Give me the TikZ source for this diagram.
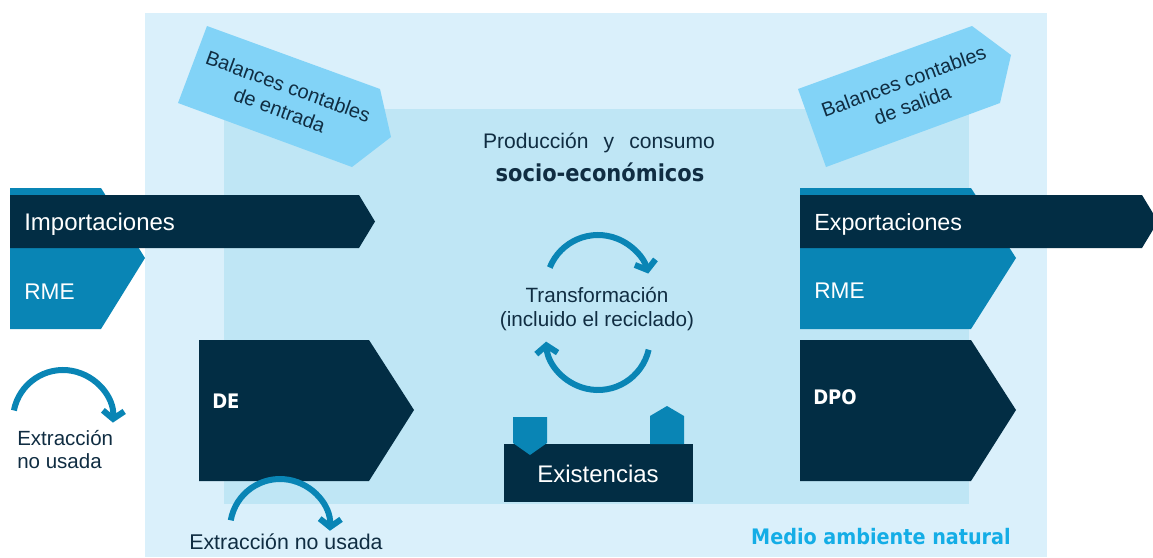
\documentclass[tikz,border=0pt]{standalone}
\usepackage{fontspec}
\setmainfont{Liberation Sans}
\newfontfamily\tah{DejaVu Sans Condensed}
\usetikzlibrary{arrows.meta}
\definecolor{navy}{RGB}{2,45,68}
\definecolor{midblue}{RGB}{9,133,181}
\definecolor{lightbal}{RGB}{130,211,247}
\definecolor{outerbg}{RGB}{218,240,251}
\definecolor{innerbg}{RGB}{191,230,245}
\definecolor{txt}{RGB}{16,45,66}
\definecolor{cyantext}{RGB}{20,173,230}
\begin{document}
\begin{tikzpicture}[x=0.75pt,y=-0.75pt,
  cyc/.style={midblue,line width=4.5pt,-{Straight Barb[length=6pt,width=16pt]}},
  lbl/.style={inner sep=0pt,text=txt},
  wlbl/.style={inner sep=0pt,text=white},
  arialL/.style={font=\fontsize{18pt}{21pt}\selectfont},
  arialM/.style={font=\fontsize{15.4pt}{17.3pt}\selectfont},
  boldT/.style={font=\tah\bfseries\fontsize{15pt}{18pt}\selectfont}]
\useasboundingbox (0,0) rectangle (1153,557);
\clip (0,0) rectangle (1153,557);
\fill[white] (0,0) rectangle (1153,557);
% backgrounds
\fill[outerbg] (145,13) rectangle (1047,557);
\fill[innerbg] (224,109) rectangle (969,504);
% balances shapes
\fill[lightbal] (207,26) -- (380,89) -- (391,137) -- (352,167) -- (178,103) -- cycle;
\fill[lightbal] (798,89) -- (972,26) -- (1011,55) -- (1000,103) -- (826,167) -- cycle;
\node[lbl,rotate=-20,align=center,font=\fontsize{15pt}{18.75pt}\selectfont] (balin) at (284,98) {Balances contables\\de entrada};
\node[lbl,rotate=20,align=center,font=\fontsize{15pt}{18.75pt}\selectfont] (balout) at (908,93) {Balances contables\\de salida};
% left import arrows
\fill[midblue] (10,188) -- (101,188) -- (145,258) -- (101,329) -- (10,329) -- cycle;
\fill[navy] (10,195) -- (359,195) -- (375,221.5) -- (359,248) -- (10,248) -- cycle;
\node[wlbl,arialL,anchor=west] (imp) at (24,224) {Importaciones};
\node[wlbl,font=\fontsize{17pt}{20pt}\selectfont,anchor=west] (rmein) at (24,292) {RME};
% right export arrows
\fill[midblue] (800,188) -- (971,188) -- (1016,258) -- (971,329) -- (800,329) -- cycle;
\fill[navy] (800,195) -- (1142,195) -- (1158,221.5) -- (1142,248) -- (800,248) -- cycle;
\node[wlbl,font=\fontsize{17.5pt}{20pt}\selectfont,anchor=west] (exp) at (814,224) {Exportaciones};
\node[wlbl,font=\fontsize{17pt}{20pt}\selectfont,anchor=west] (rmeout) at (814,291) {RME};
% DE and DPO
\fill[navy] (199,340) -- (369,340) -- (414,410) -- (369,481) -- (199,481) -- cycle;
\node[wlbl,boldT,anchor=west] (de) at (212,401) {DE};
\fill[navy] (800,340) -- (971,340) -- (1016,410) -- (971,481) -- (800,481) -- cycle;
\node[wlbl,boldT,anchor=west] (dpo) at (813,397) {DPO};
% title
\node[lbl,font=\fontsize{15.8pt}{18pt}\selectfont] (prod) at (599,143) {Producción\hspace{7pt} y \hspace{7pt}consumo};
\node[lbl,font=\tah\bfseries\fontsize{17.5pt}{20pt}\selectfont] (socio) at (600,172) {socio-económicos};
% transformation cycle
\draw[cyc] (598,287) ++(158:39pt) arc[start angle=158,end angle=15,radius=39pt];
\draw[cyc] (598,338) ++(-13:39pt) arc[start angle=-13,end angle=-176,radius=39pt];
\node[lbl,align=center,font=\fontsize{15.5pt}{17.5pt}\selectfont] (trans) at (597,309) {Transformación\\(incluido el reciclado)};
% existencias
\fill[navy] (504,444) rectangle (693,502);
\node[wlbl,arialL] (exist) at (598,474) {Existencias};
\fill[midblue] (513,417) -- (547,417) -- (547,443) -- (530,455) -- (513,443) -- cycle;
\fill[midblue] (650,444) -- (650,416) -- (667,406) -- (684,416) -- (684,444) -- cycle;
% extraction arcs
\draw[cyc] (63,420) ++(169:37.5pt) arc[start angle=169,end angle=-3,radius=37.5pt];
\node[lbl,arialM,align=left,anchor=west] (extl) at (17,450) {Extracción\\no usada};
\draw[cyc] (280,529) ++(170:37.5pt) arc[start angle=170,end angle=-2,radius=37.5pt];
\node[lbl,font=\fontsize{16pt}{18pt}\selectfont] (extb) at (286,542) {Extracción no usada};
% medio ambiente
\node[inner sep=0pt,text=cyantext,font=\tah\bfseries\fontsize{16pt}{18pt}\selectfont,anchor=east] (medio) at (1011,537) {Medio ambiente natural};
\end{tikzpicture}
\end{document}
